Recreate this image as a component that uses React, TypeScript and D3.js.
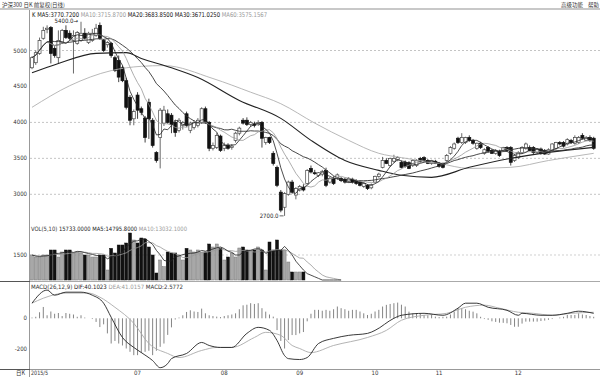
import React from "react";
import * as d3 from "d3";

// [open, high, low, close]
const candles: [number, number, number, number][] = [
  [4760, 4920, 4740, 4900], [4830, 5000, 4800, 4970], [4960, 5180, 4940, 5140], [5170, 5330, 5150, 5280],
  [5290, 5350, 5240, 5310], [5320, 5340, 4820, 4960], [5030, 5060, 4900, 4930], [4900, 5280, 4820, 5140],
  [5110, 5300, 5090, 5280], [5280, 5350, 5160, 5180], [5240, 5280, 5140, 5170], [5140, 5280, 4680, 5210],
  [5100, 5270, 5080, 5250], [5140, 5400, 5120, 5240], [5240, 5310, 5150, 5170], [5110, 5260, 5090, 5240],
  [5140, 5300, 5120, 5240], [5210, 5370, 5190, 5310], [5350, 5390, 5150, 5170], [5140, 5160, 4980, 5000],
  [5080, 5130, 5040, 5110], [5100, 5120, 4900, 4930], [4900, 4930, 4700, 4720], [4860, 4930, 4560, 4630],
  [4760, 4790, 4560, 4580], [4580, 4620, 4180, 4210], [4350, 4380, 3960, 4030], [4050, 4180, 3960, 4150],
  [4380, 4420, 4050, 4170], [4190, 4220, 4100, 4140], [4060, 4090, 3720, 3790], [4280, 4330, 3770, 4050],
  [4030, 4060, 3650, 3680], [3580, 3600, 3440, 3470], [3790, 4200, 3360, 4170], [3990, 4230, 3950, 4170],
  [4120, 4180, 3980, 4000], [4100, 4130, 3850, 3970], [4000, 4030, 3800, 3860], [3890, 4060, 3860, 4030],
  [3960, 4020, 3900, 4000], [4120, 4150, 3940, 3960], [3890, 4010, 3850, 3990], [3930, 4030, 3900, 4000],
  [3960, 4060, 3930, 4030], [4000, 4210, 3980, 4190], [4190, 4220, 3980, 4000], [4000, 4020, 3600, 3640],
  [3640, 3720, 3610, 3680], [3650, 3850, 3630, 3820], [3810, 3830, 3590, 3610], [3640, 3720, 3600, 3680],
  [3680, 3710, 3620, 3640], [3650, 3700, 3620, 3670], [3750, 3870, 3720, 3850], [3850, 3940, 3820, 3920],
  [4030, 4060, 3970, 3990], [4030, 4070, 3950, 3970], [3970, 4020, 3940, 4000], [3980, 4010, 3930, 3960],
  [3980, 4030, 3950, 4000], [4000, 4020, 3650, 3780], [3720, 3800, 3690, 3790], [3790, 3800, 3700, 3720],
  [3570, 3600, 3400, 3430], [3375, 3400, 3100, 3125], [3030, 3060, 2750, 2780], [2820, 3030, 2700, 3010],
  [3000, 3190, 2980, 3170], [3170, 3200, 3010, 3030], [2990, 3100, 2930, 3080], [3060, 3130, 3040, 3110],
  [3100, 3140, 3040, 3060], [3150, 3350, 3130, 3330], [3360, 3400, 3290, 3310], [3300, 3340, 3270, 3290],
  [3260, 3310, 3240, 3300], [3280, 3340, 3250, 3320], [3330, 3370, 3100, 3125], [3170, 3240, 3150, 3220],
  [3220, 3250, 3130, 3150], [3230, 3290, 3200, 3270], [3220, 3240, 3170, 3190], [3210, 3230, 3150, 3170],
  [3180, 3240, 3160, 3220], [3210, 3230, 3150, 3170], [3190, 3210, 3130, 3150], [3170, 3190, 3110, 3125],
  [3110, 3160, 3090, 3150], [3125, 3140, 3060, 3080], [3090, 3150, 3070, 3130], [3170, 3260, 3160, 3250],
  [3250, 3300, 3230, 3280], [3375, 3520, 3360, 3470], [3470, 3500, 3420, 3430], [3400, 3510, 3380, 3500],
  [3460, 3550, 3440, 3500], [3480, 3530, 3460, 3510], [3445, 3470, 3360, 3375], [3445, 3470, 3370, 3390],
  [3440, 3460, 3350, 3360], [3400, 3490, 3380, 3470], [3400, 3490, 3380, 3470], [3500, 3520, 3440, 3460],
  [3510, 3530, 3450, 3470], [3470, 3490, 3420, 3430], [3430, 3480, 3410, 3470], [3460, 3480, 3420, 3430],
  [3430, 3450, 3370, 3390], [3430, 3440, 3360, 3375], [3470, 3560, 3450, 3540], [3570, 3670, 3550, 3650],
  [3640, 3720, 3620, 3700], [3780, 3800, 3700, 3720], [3720, 3850, 3700, 3790], [3720, 3800, 3700, 3790],
  [3790, 3820, 3730, 3750], [3750, 3770, 3690, 3710], [3640, 3720, 3620, 3710], [3710, 3730, 3630, 3650],
  [3570, 3640, 3550, 3620], [3650, 3670, 3580, 3600], [3610, 3630, 3560, 3570], [3570, 3630, 3550, 3610],
  [3600, 3620, 3520, 3540], [3610, 3660, 3590, 3650], [3650, 3670, 3590, 3610], [3650, 3670, 3400, 3445],
  [3470, 3560, 3450, 3540], [3510, 3600, 3490, 3580], [3580, 3670, 3560, 3650], [3640, 3720, 3620, 3700],
  [3650, 3680, 3600, 3610], [3650, 3670, 3560, 3580], [3580, 3640, 3560, 3630], [3630, 3650, 3550, 3570],
  [3610, 3630, 3550, 3560], [3560, 3640, 3550, 3620], [3610, 3710, 3600, 3700], [3640, 3730, 3620, 3720],
  [3720, 3740, 3680, 3700], [3720, 3740, 3650, 3670], [3700, 3780, 3680, 3760], [3750, 3770, 3700, 3720],
  [3710, 3820, 3690, 3790], [3720, 3810, 3700, 3790], [3820, 3850, 3760, 3780], [3750, 3810, 3740, 3790],
  [3790, 3820, 3730, 3750], [3780, 3800, 3620, 3640],
];

const volumes: number[] = [
  1500, 1380, 1380, 1500, 1500, 1800, 1800, 1380, 1680, 1800, 1800, 1620, 1680, 1620, 1500, 1500,
  1380, 1380, 1500, 1500, 600, 1900, 1620, 2100, 2100, 2220, 2820, 2400, 2220, 2520, 2460, 1980,
  1500, 420, 1200, 800, 1680, 1620, 1620, 1500, 1200, 1900, 1800, 1680, 1800, 1680, 1680, 2160,
  1980, 2160, 1920, 1200, 1380, 1620, 1380, 1920, 1980, 1800, 1800, 1800, 1980, 1800, 600, 2280,
  1800, 2400, 1800, 1800, 1080, 480, 480, 480, 480,
];

const macdHist: number[] = [
  5, 10, 40, 75, 20, 45, 30, 35, 15, 35, 30, 25, 10, 20, 5, 0,
  -5, -24, -58, -40, -100, -167, -150, -167, -180, -200, -222, -244, -244, -230, -222, -215,
  -244, -215, -189, -167, -110, -60, -8, 5, 20, 42, 53, 45, 42, 64, 33, 20,
  15, 11, 8, 15, 20, 25, 33, 60, 86, 90, 100, 95, 100, 67, 44, 25,
  11, -78, -150, -200, -144, -111, -111, -100, -91, -20, 30, 56, 56, 50, 56, 50,
  60, 78, 67, 60, 50, 56, 56, 45, 33, 22, 30, 45, 56, 78, 89, 95,
  100, 104, 90, 78, 44, 33, 33, 30, 22, 20, 22, 11, 8, 10, 11, 25,
  44, 67, 67, 60, 50, 44, 33, 10, -5, -10, -20, -24, -29, -30, -33, -44,
  -56, -56, -35, -22, -22, -22, -22, -18, -15, -10, -5, 0, 5, 10, 22, 22,
  22, 33, 25, 22, 15, 10,
];

// [candle index, value]
const ma30Points: [number, number][] = [
  [0, 4690], [7, 4820], [17, 4960], [25, 4970], [29, 4890], [37, 4760], [44, 4625], [55, 4306],
  [66, 4056], [74, 3750], [83, 3470], [92, 3333], [98, 3264], [106, 3236], [116, 3375], [127, 3500],
  [137, 3583], [149, 3653],
];
const ma60Points: [number, number][] = [
  [0, 4210], [10, 4510], [21, 4720], [29, 4780], [35, 4790], [48, 4610], [58, 4420], [66, 4260],
  [75, 3990], [84, 3750], [92, 3570], [98, 3510], [108, 3430], [116, 3360], [127, 3375], [137, 3470],
  [149, 3570],
];
const difPoints: [number, number][] = [
  [0, 100], [4, 187], [6, 153], [9, 173], [13, 173], [16, 153], [19, 100], [21, 7], [24, -127],
  [27, -193], [29, -227], [32, -280], [34, -327], [36, -300], [37, -267], [41, -233], [45, -160],
  [47, -180], [50, -193], [53, -193], [57, -100], [60, -60], [63, -80], [65, -147], [67, -247],
  [68, -267], [71, -273], [73, -260], [76, -167], [80, -133], [84, -113], [89, -100], [91, -80],
  [96, 0], [98, 20], [104, 33], [109, 20], [113, 67], [115, 100], [118, 100], [121, 73], [126, 53],
  [129, 20], [130, 33], [135, 20], [138, 20], [142, 33], [145, 47], [149, 33],
];
const deaPoints: [number, number][] = [
  [0, 100], [3, 133], [9, 167], [15, 167], [18, 140], [22, 73], [27, -33], [31, -167], [36, -233],
  [39, -260], [45, -213], [49, -193], [53, -193], [59, -127], [62, -93], [66, -113], [69, -180],
  [71, -200], [74, -227], [80, -180], [89, -127], [94, -80], [98, -13], [104, 20], [110, 33],
  [115, 73], [120, 87], [124, 67], [129, 40], [133, 33], [138, 20], [143, 33], [149, 40],
];

// legend items: [label, colour]
const priceLegend: [string, string][] = [
  ["K ", "#111"], ["MA5:3770.7200 ", "#111"], ["MA10:3715.8700 ", "#999"], ["MA20:3683.8500 ", "#111"],
  ["MA30:3671.0250 ", "#111"], ["MA60:3575.1567", "#999"],
];
const volLegend: [string, string][] = [
  ["VOL(5,10) ", "#333"], ["15733.0000 ", "#222"], ["MA5:14795.8000 ", "#222"], ["MA10:13032.1000", "#999"],
];
const macdLegend: [string, string][] = [
  ["MACD(26,12,9) ", "#333"], ["DIF:40.1023 ", "#222"], ["DEA:41.0157 ", "#999"], ["MACD:2.5772", "#333"],
];

const priceTicks = [5000, 4500, 4000, 3500, 3000];
const priceGrid = [5000, 4000, 3500, 3000];
const monthTicks: [number, string][] = [[28, "07"], [51, "08"], [71, "09"], [91, "10"], [108, "11"], [129, "12"]];

const FONT = "Liberation Sans Narrow, DejaVu Sans Condensed, DejaVu Sans, sans-serif";
const CJK = "Noto Sans CJK SC, sans-serif";

function sma(arr: number[], n: number): number[] {
  return arr.map((_, i) => d3.mean(arr.slice(Math.max(0, i - n + 1), i + 1)) as number);
}

export default function App() {
  const N = candles.length;
  const x = d3.scaleLinear().domain([0, N - 1]).range([32, 593.7]);
  const yP = d3.scaleLinear().domain([3000, 5000]).range([194.3, 50.5]);
  const yV = d3.scaleLinear().domain([0, 1500]).range([280, 255]);
  const yM = d3.scaleLinear().domain([-200, 0]).range([348.5, 318.3]);

  const closes = candles.map((c) => c[3]);
  const ma5 = sma(closes, 5);
  const ma10 = sma(closes, 10);
  const ma20 = sma(closes, 20);

  const volExt = d3.range(volumes.length + 10).map((i) => (i < volumes.length ? volumes[i] : 0));
  const vma5 = sma(volExt, 5);
  const vma10 = sma(volExt, 10);

  const lineIdx = d3.line<number>().x((_, i) => x(i)).y((d) => yP(d));
  const linePts = d3.line<[number, number]>().x((d) => x(d[0])).y((d) => yP(d[1])).curve(d3.curveMonotoneX);
  const lineM = d3.line<[number, number]>().x((d) => x(d[0])).y((d) => yM(d[1])).curve(d3.curveMonotoneX);
  const lineV = d3.line<number>().x((_, i) => x(i)).y((d) => yV(d));

  const bw = 3;

  const lowIdx = d3.minIndex(candles, (c) => c[2]);
  const highIdx = d3.maxIndex(candles, (c) => c[1]);

  const t = (props: any, s: string) => (
    <text fontFamily={FONT} fontSize={6} fill="#333" lengthAdjust="spacingAndGlyphs" {...props}>{s}</text>
  );
  const legend = (items: [string, string][], px: number, py: number, len: number, fs: number) => (
    <text x={px} y={py} fontFamily={FONT} fontSize={fs} textLength={len} lengthAdjust="spacingAndGlyphs" xmlSpace="preserve">
      {items.map(([s, col], k) => (
        <tspan key={k} fill={col}>{s}</tspan>
      ))}
    </text>
  );

  return (
    <div style={{ position: "absolute", left: 0, top: 0, width: 600, height: 377, background: "#fff" }}>
      <svg width={600} height={377} style={{ display: "block" }}>
        <rect x={0} y={0} width={600} height={377} fill="#fff" />
        {/* header */}
        <text x={2} y={6.5} fontSize={5.5} fill="#333" fontFamily={CJK}>沪深300 日K 前复权(日线)</text>
        <text x={561} y={6.5} fontSize={5.5} fill="#333" fontFamily={CJK}>高级功能</text>
        <text x={588} y={6.5} fontSize={5.5} fill="#333" fontFamily={CJK}>帮助</text>
        <rect x={0} y={8} width={600} height={2} fill="#c8c8c8" />

        {/* frame */}
        <line x1={29.5} x2={29.5} y1={10} y2={377} stroke="#999" strokeWidth={1} />
        <line x1={0} x2={600} y1={281.5} y2={281.5} stroke="#aaa" strokeWidth={1} />
        <line x1={0} x2={30} y1={281.5} y2={281.5} stroke="#555" strokeWidth={1} />
        <line x1={0} x2={600} y1={369.5} y2={369.5} stroke="#999" strokeWidth={1} />
        <line x1={0} x2={30} y1={369.5} y2={369.5} stroke="#555" strokeWidth={1} />

        {/* price grid & ticks */}
        {priceGrid.map((p) => (
          <line key={"g" + p} x1={30} x2={600} y1={yP(p)} y2={yP(p)} stroke="#aaa" strokeWidth={0.7} strokeDasharray="2,2" />
        ))}
        {priceTicks.map((p) => (
          <g key={"t" + p}>{t({ x: 27, y: yP(p) + 2, textAnchor: "end" }, String(p))}</g>
        ))}

        {/* legend */}
        {legend(priceLegend, 32, 16.5, 235, 6.5)}

        {/* candles */}
        {candles.map(([o, h, l, c], i) => {
          const up = c >= o;
          const cx = x(i);
          const top = yP(Math.max(o, c));
          const bot = yP(Math.min(o, c));
          const hgt = Math.max(1, bot - top);
          return (
            <g key={"c" + i}>
              <line x1={cx} x2={cx} y1={yP(h)} y2={yP(l)} stroke={up ? "#444" : "#111"} strokeWidth={0.8} />
              <rect
                x={cx - bw / 2}
                y={top}
                width={bw}
                height={hgt}
                fill={up ? "#fff" : "#111"}
                stroke={up ? "#444" : "#111"}
                strokeWidth={0.7}
              />
            </g>
          );
        })}

        {/* MA lines */}
        <path d={linePts(ma60Points) || ""} fill="none" stroke="#b0b0b0" strokeWidth={0.9} />
        <path d={linePts(ma30Points) || ""} fill="none" stroke="#222" strokeWidth={1.1} />
        <path d={lineIdx(ma20) || ""} fill="none" stroke="#333" strokeWidth={0.9} />
        <path d={lineIdx(ma10) || ""} fill="none" stroke="#999" strokeWidth={0.8} />
        <path d={lineIdx(ma5) || ""} fill="none" stroke="#222" strokeWidth={0.8} />

        {/* high / low markers */}
        {t({ x: x(highIdx) - 3, y: yP(candles[highIdx][1]) + 1.5, textAnchor: "end", fill: "#222" }, candles[highIdx][1].toFixed(1) + "→")}
        <line x1={x(lowIdx) - 1} x2={x(lowIdx) - 5} y1={yP(candles[lowIdx][2])} y2={yP(candles[lowIdx][2])} stroke="#222" strokeWidth={0.7} />
        {t({ x: x(lowIdx) - 6, y: yP(candles[lowIdx][2]) + 2, textAnchor: "end", fill: "#222" }, candles[lowIdx][2].toFixed(1))}

        {/* volume panel */}
        {legend(volLegend, 31, 231, 156, 6)}
        <line x1={30} x2={600} y1={yV(1500)} y2={yV(1500)} stroke="#bbb" strokeWidth={0.7} strokeDasharray="2,2" />
        {t({ x: 27, y: yV(1500) + 2, textAnchor: "end" }, "1500")}
        {volumes.map((v, i) => {
          const [o, , , c] = candles[i];
          const up = c >= o;
          return (
            <rect
              key={"v" + i}
              x={x(i) - bw / 2}
              y={yV(v)}
              width={bw}
              height={yV(0) - yV(v)}
              fill={up ? "#a8a8a8" : "#111"}
              stroke={up ? "#777" : "#111"}
              strokeWidth={0.5}
            />
          );
        })}
        <path d={lineV(vma10) || ""} fill="none" stroke="#999" strokeWidth={0.8} />
        <path d={lineV(vma5) || ""} fill="none" stroke="#222" strokeWidth={0.8} />

        {/* MACD panel */}
        {legend(macdLegend, 31, 289, 152, 6)}
        {t({ x: 27, y: yM(0) + 2, textAnchor: "end" }, "0")}
        {t({ x: 27, y: yM(-200) + 2, textAnchor: "end" }, "-200")}
        {macdHist.map((v, i) => (
          <line key={"m" + i} x1={x(i)} x2={x(i)} y1={yM(0)} y2={yM(v)} stroke="#777" strokeWidth={0.9} />
        ))}
        <path d={lineM(deaPoints) || ""} fill="none" stroke="#aaa" strokeWidth={0.9} />
        <path d={lineM(difPoints) || ""} fill="none" stroke="#222" strokeWidth={0.9} />

        {/* x axis labels */}
        <text x={16} y={375} fontSize={5.5} fill="#333" fontFamily={CJK}>日K</text>
        {t({ x: 31, y: 375, textLength: 17 }, "2015/5")}
        {monthTicks.map(([i, lab]) => (
          <g key={"mt" + lab}>{t({ x: x(i), y: 375, textAnchor: "middle" }, lab)}</g>
        ))}
      </svg>
    </div>
  );
}
